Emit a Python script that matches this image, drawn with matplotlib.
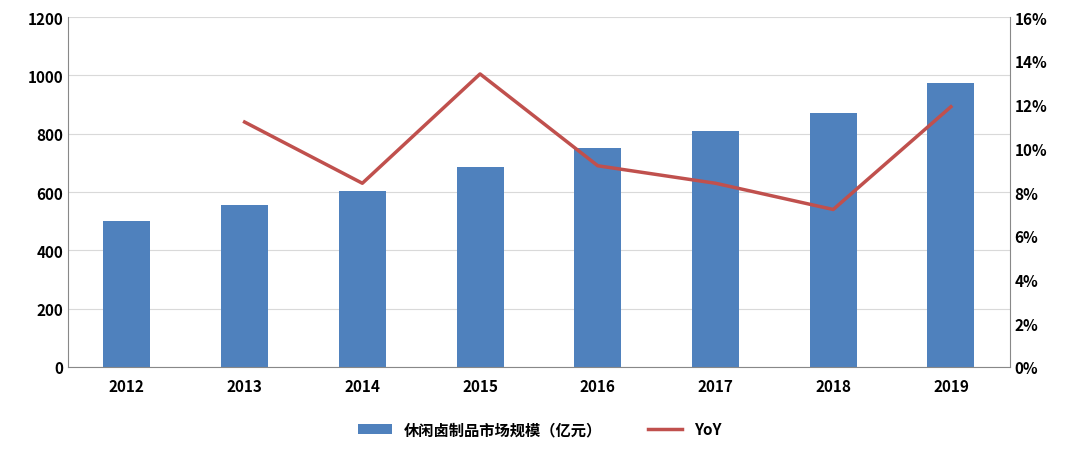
import matplotlib.pyplot as plt
from matplotlib.ticker import FuncFormatter

plt.rcParams['font.family'] = ['Noto Sans CJK SC', 'DejaVu Sans']

# ── data
YEARS = ["2012", "2013", "2014", "2015", "2016", "2017", "2018", "2019"]
MARKET = [500, 557, 603, 685, 750, 808, 870, 973]
YOY_YEARS = YEARS[1:]
YOY = [11.2, 8.4, 13.4, 9.2, 8.4, 7.2, 11.9]

BAR_COLOR = "#4f81bd"
LINE_COLOR = "#c0504d"

fig = plt.figure(figsize=(10.8, 4.52), dpi=100)
ax = fig.add_axes([0.063, 0.186, 0.872, 0.774])

x = list(range(len(YEARS)))
ax.bar(x, MARKET, width=0.4, color=BAR_COLOR, zorder=2, label="休闲卤制品市场规模（亿元）")
ax.set_ylim(0, 1200)
ax.set_yticks(range(0, 1201, 200))
ax.set_xlim(-0.5, len(YEARS) - 0.5)
ax.set_xticks(x)
ax.set_xticklabels(YEARS, fontweight="bold")
ax.grid(axis="y", color="#d9d9d9", linewidth=0.8, zorder=0)
ax.tick_params(axis="both", length=0, labelsize=11)
ax.tick_params(axis="x", pad=8)
for lbl in ax.get_yticklabels():
    lbl.set_fontweight("bold")
for s in ["top", "right"]:
    ax.spines[s].set_visible(False)
ax.spines["left"].set_color("#888888")
ax.spines["bottom"].set_color("#888888")

ax2 = ax.twinx()
ax2.plot([YEARS.index(y) for y in YOY_YEARS], YOY, color=LINE_COLOR, linewidth=2.5, label="YoY", zorder=3)
ax2.set_ylim(0, 16)
ax2.set_yticks(range(0, 17, 2))
ax2.yaxis.set_major_formatter(FuncFormatter(lambda v, p: f"{int(v)}%"))
ax2.tick_params(axis="y", length=0, labelsize=11)
for lbl in ax2.get_yticklabels():
    lbl.set_fontweight("bold")
for s in ["top", "left", "bottom"]:
    ax2.spines[s].set_visible(False)
ax2.spines["right"].set_color("#888888")

h1, l1 = ax.get_legend_handles_labels()
h2, l2 = ax2.get_legend_handles_labels()
leg = fig.legend(h1 + h2, l1 + l2, loc="lower center", bbox_to_anchor=(0.5, 0.0),
                 ncol=2, frameon=False, fontsize=11, columnspacing=3, handlelength=2.2)
for t in leg.get_texts():
    t.set_fontweight("bold")

fig.savefig("out.png", dpi=100)
